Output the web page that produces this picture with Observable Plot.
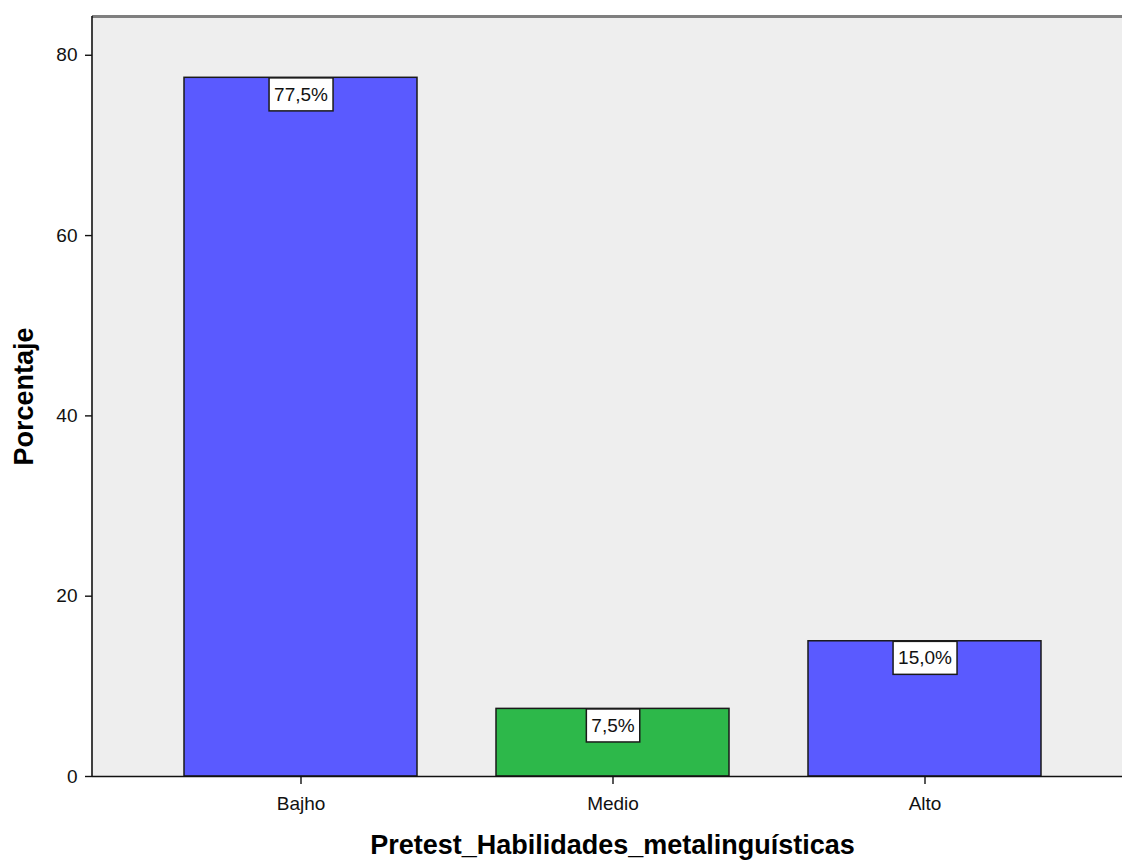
<!DOCTYPE html>
<html>
<head>
<meta charset="utf-8">
<script src="https://cdn.jsdelivr.net/npm/d3@7"></script>
<script src="https://cdn.jsdelivr.net/npm/@observablehq/plot@0.6"></script>
<style>
  html, body { margin: 0; padding: 0; background: white; }
  #chart svg { display: block; }
</style>
</head>
<body>
<div id="chart"></div>
<script>
const categories = ["Bajho", "Medio", "Alto"];
const values = [77.5, 7.5, 15.0];
const valueLabels = ["77,5%", "7,5%", "15,0%"];
const barColors = ["#5a5aff", "#2db84a", "#5a5aff"];
const yTicks = [0, 20, 40, 60, 80];
const yMax = 84.3;
const xTitle = "Pretest_Habilidades_metalinguísticas";
const yTitle = "Porcentaje";

const data = categories.map((c, i) => ({cat: c, value: values[i], label: valueLabels[i], color: barColors[i]}));

// left axis line drawn from the y scale and frame dimensions
const leftAxisLine = (index, scales, values, dimensions) => {
  const g = d3.create("svg:g");
  g.append("line")
    .attr("x1", dimensions.marginLeft).attr("x2", dimensions.marginLeft)
    .attr("y1", scales.y(yMax)).attr("y2", scales.y(0))
    .attr("stroke", "#111").attr("stroke-width", 1.6);
  return g.node();
};

const chart = Plot.plot({
  width: 1122,
  height: 862,
  marginLeft: 92,
  marginRight: 0,
  marginTop: 16,
  marginBottom: 86,
  style: {fontFamily: "'Liberation Sans', Arial, sans-serif", fontSize: "19px", color: "#000", background: "white"},
  x: {domain: categories, range: [93, 1133], paddingInner: 0.2532, paddingOuter: 0.293},
  y: {domain: [0, yMax]},
  color: {type: "identity"},
  marks: [
    Plot.frame({fill: "#eeeeee", stroke: "none"}),
    Plot.ruleY([yMax], {stroke: "#7f7f7f", strokeWidth: 3}),
    Plot.barY(data, {x: "cat", y: "value", fill: "color", stroke: "#1a1a1a", strokeWidth: 1.5}),
    Plot.ruleY([0], {stroke: "#111", strokeWidth: 1.6}),
    leftAxisLine,
    Plot.axisY({ticks: yTicks, tickSize: 7, tickPadding: 8, label: null, stroke: "#111", strokeWidth: 1.4, fill: "#111"}),
    Plot.axisX({tickSize: 8, tickPadding: 12, label: null, stroke: "#111", strokeWidth: 1.4, fill: "#111"}),
    Plot.text(data, {x: "cat", y: "value", text: "label", dy: 17, fontSize: 19, fill: "#111"}),
    Plot.text([xTitle], {text: d => d, frameAnchor: "bottom", lineAnchor: "middle", textAnchor: "middle", dy: 69, dx: 5, fontSize: 27, fontWeight: "bold", fill: "#000"}),
    Plot.text([yTitle], {text: d => d, frameAnchor: "left", lineAnchor: "middle", textAnchor: "middle", dx: -68, rotate: -90, fontSize: 27, fontWeight: "bold", fill: "#000"})
  ]
});

document.getElementById("chart").appendChild(chart);

// white boxes behind value labels
const labelSet = new Set(valueLabels);
chart.querySelectorAll("text").forEach(t => {
  if (labelSet.has(t.textContent)) {
    const bb = t.getBBox();
    const rect = document.createElementNS("http://www.w3.org/2000/svg", "rect");
    const h = 33;
    const cy = bb.y + bb.height / 2;
    rect.setAttribute("x", bb.x - 5);
    rect.setAttribute("y", cy - h / 2);
    rect.setAttribute("width", bb.width + 10);
    rect.setAttribute("height", h);
    rect.setAttribute("fill", "white");
    rect.setAttribute("stroke", "#1a1a1a");
    rect.setAttribute("stroke-width", 1.5);
    const tr = t.getAttribute("transform");
    if (tr) rect.setAttribute("transform", tr);
    t.parentNode.insertBefore(rect, t);
  }
});
</script>
</body>
</html>
